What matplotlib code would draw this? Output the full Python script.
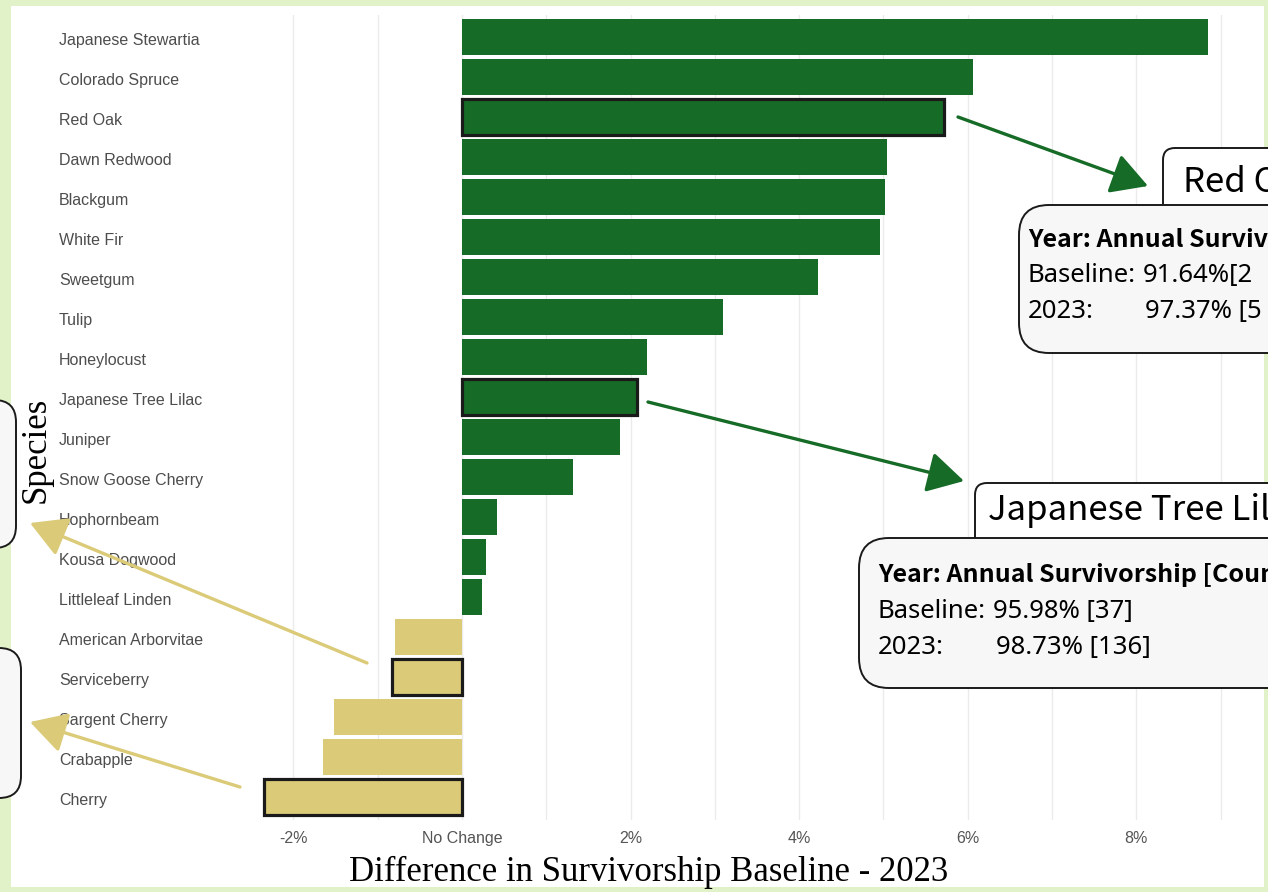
import numpy as np
import matplotlib
matplotlib.use("Agg")
import matplotlib.pyplot as plt
from matplotlib.patches import FancyBboxPatch, Rectangle, FancyArrowPatch
from matplotlib.transforms import IdentityTransform, ScaledTranslation

# data (difference in survivorship, %)
species = ["Japanese Stewartia", "Colorado Spruce", "Red Oak", "Dawn Redwood",
           "Blackgum", "White Fir", "Sweetgum", "Tulip", "Honeylocust",
           "Japanese Tree Lilac", "Juniper", "Snow Goose Cherry", "Hophornbeam",
           "Kousa Dogwood", "Littleleaf Linden", "American Arborvitae",
           "Serviceberry", "Sargent Cherry", "Crabapple", "Cherry"]
diff = [8.85, 6.06, 5.72, 5.04, 5.02, 4.96, 4.22, 3.10, 2.19, 2.08,
        1.87, 1.32, 0.42, 0.28, 0.24, -0.79, -0.83, -1.52, -1.65, -2.35]
highlight = ["Red Oak", "Japanese Tree Lilac", "Serviceberry", "Cherry"]
xticks = [-2, 0, 2, 4, 6, 8]
xticklabels = ["-2%", "No Change", "2%", "4%", "6%", "8%"]

GREEN = "#166b27"
TAN = "#dbcb78"
W, H = 1268, 892

fig = plt.figure(figsize=(W / 100, H / 100), dpi=100)
fig.patch.set_facecolor("#e1f1c8")
# white panel inside the green frame
fig.add_artist(Rectangle((11, H - 887), 1253, 881, transform=IdentityTransform(),
                         facecolor="white", edgecolor="none", zorder=0))

ax = fig.add_axes([250 / W, (H - 820) / H, (1258 - 250) / W, (820 - 15) / H])
ax.set_facecolor("none")
ypos = np.arange(len(species))
colors = [GREEN if d >= 0 else TAN for d in diff]
bars = ax.barh(ypos, diff, height=0.9, color=colors, zorder=2)
for b, name in zip(bars, species):
    if name in highlight:
        b.set_edgecolor("#1a1a1a")
        b.set_linewidth(2.3)

ax.set_xlim(-2.515, 9.443)
ax.set_ylim(19.575, -0.55)
for v in range(-2, 10):
    ax.axvline(v, color="#ebebeb", lw=1, zorder=1)
ax.set_xticks(xticks)
ax.set_xticklabels(xticklabels, fontsize=11.5, color="#555555", family="Liberation Sans")
ax.set_yticks(ypos)
ax.set_yticklabels(species, ha="left", fontsize=11.5, color="#4d4d4d", family="Liberation Sans")
ax.tick_params(axis="y", length=0, pad=(250 - 59) * 0.72)
ax.tick_params(axis="x", length=0, pad=8)
shift = ScaledTranslation(0, -0.02, fig.dpi_scale_trans)
for lab in ax.get_yticklabels():
    lab.set_transform(lab.get_transform() + shift)
for s in ax.spines.values():
    s.set_visible(False)

fig.text(649 / W, 1 - 872 / H, "Difference in Survivorship Baseline - 2023",
         ha="center", va="center", fontsize=25, family="Liberation Serif", zorder=10)


def box(x0, y0, x1, y1, r, fc, z):
    p = FancyBboxPatch((x0, H - y1), x1 - x0, y1 - y0,
                       boxstyle=f"round,pad=0,rounding_size={r}",
                       transform=IdentityTransform(), facecolor=fc,
                       edgecolor="#1a1a1a", lw=1.4, zorder=z)
    fig.add_artist(p)


def arrow(x0, y0, x1, y1, c):
    a = FancyArrowPatch((x0, H - y0), (x1, H - y1), transform=IdentityTransform(),
                        arrowstyle="-|>,head_length=0.8,head_width=0.45",
                        mutation_scale=28, color=c, lw=2.4, zorder=6,
                        shrinkA=0, shrinkB=0)
    fig.add_artist(a)


# left call-outs (cut off by the edge)
box(-300, 400, 16, 548, 22, "#f7f7f7", 5)
box(-300, 648, 21, 798, 22, "#f7f7f7", 5)
fig.text(36 / W, 1 - 450 / H, "Species", rotation=90, ha="center", va="center",
         fontsize=25, family="Liberation Serif", zorder=10)

arrow(958, 117, 1148, 186, GREEN)
arrow(648, 402, 964, 481, GREEN)
arrow(367, 663, 30, 523, TAN)
arrow(240, 787, 30, 722, TAN)

TITLE = ["Noto Sans CJK KR", "DejaVu Sans"]
BODY = ["Noto Sans", "DejaVu Sans"]
FS = 18.5

# Red Oak call-out
box(1163, 148, 1600, 240, 12, "white", 7)
box(1019, 205, 1600, 353, 30, "#f7f7f7", 8)
fig.text(1183 / W, 1 - 183 / H, "Red Oak", fontsize=25, va="center", family=TITLE, zorder=9)
fig.text(1028 / W, 1 - 240 / H, "Year: Annual Survivorship [Count]", fontsize=18,
         weight="bold", va="center", family=TITLE, zorder=9)
fig.text(1028 / W, 1 - 276 / H, "Baseline:", fontsize=FS, va="center", family=BODY, zorder=9)
fig.text(1143 / W, 1 - 276 / H, "91.64%[2", fontsize=FS, va="center", family=BODY, zorder=9)
fig.text(1028 / W, 1 - 311 / H, "2023:", fontsize=FS, va="center", family=BODY, zorder=9)
fig.text(1145 / W, 1 - 311 / H, "97.37% [5", fontsize=FS, va="center", family=BODY, zorder=9)

# Japanese Tree Lilac call-out
box(975, 483, 1600, 580, 12, "white", 7)
box(859, 538, 1600, 688, 30, "#f7f7f7", 8)
fig.text(988 / W, 1 - 511 / H, "Japanese Tree Lilac", fontsize=25, va="center", family=TITLE, zorder=9)
fig.text(878 / W, 1 - 575 / H, "Year: Annual Survivorship [Count]", fontsize=18,
         weight="bold", va="center", family=TITLE, zorder=9)
fig.text(878 / W, 1 - 611 / H, "Baseline:", fontsize=FS, va="center", family=BODY, zorder=9)
fig.text(993 / W, 1 - 611 / H, "95.98% [37]", fontsize=FS, va="center", family=BODY, zorder=9)
fig.text(878 / W, 1 - 647 / H, "2023:", fontsize=FS, va="center", family=BODY, zorder=9)
fig.text(996 / W, 1 - 647 / H, "98.73% [136]", fontsize=FS, va="center", family=BODY, zorder=9)

fig.savefig("out.png", dpi=100, facecolor=fig.get_facecolor())
